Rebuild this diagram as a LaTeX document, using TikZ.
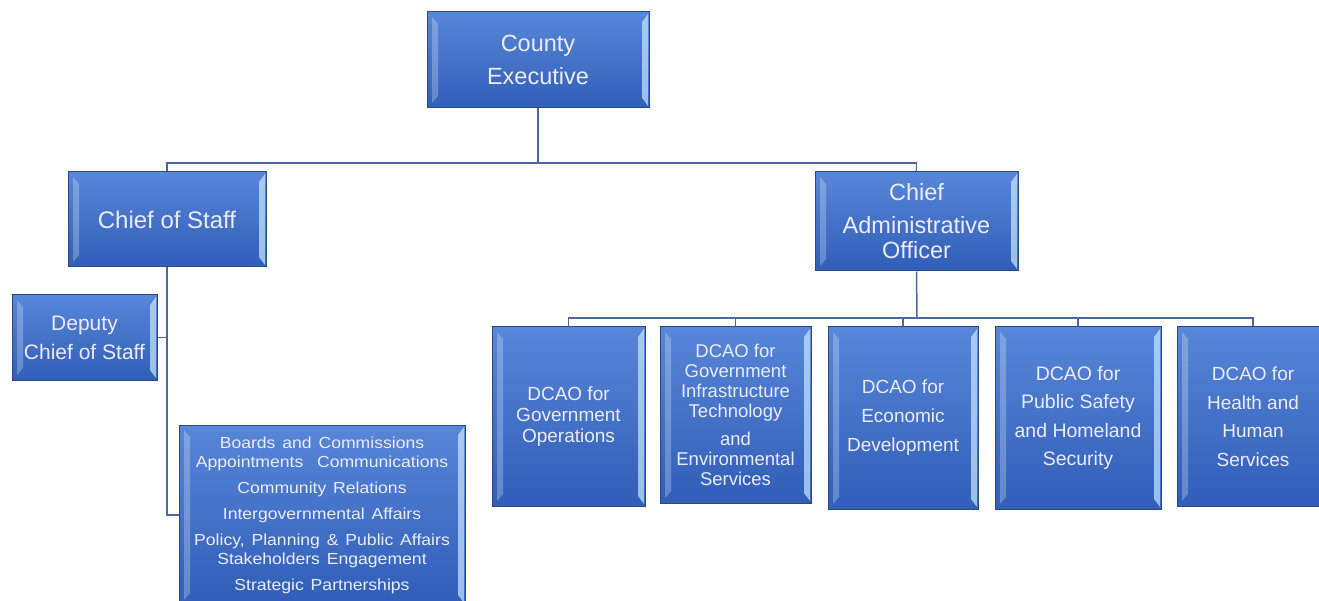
\documentclass[tikz,border=0pt]{standalone}
\usepackage{fontspec}
\setmainfont{Liberation Sans}
\newfontfamily\widefont[FakeStretch=1.1,WordSpace=1.4]{Liberation Sans}

\definecolor{boxtop}{RGB}{88,134,216}
\definecolor{boxbot}{RGB}{48,94,184}
\definecolor{boxedge}{RGB}{42,72,138}
\definecolor{wirecol}{RGB}{74,104,166}
\definecolor{gloss}{RGB}{200,232,252}

\begin{document}
\begin{tikzpicture}[x=1pt,y=-1pt,
    post/.style={draw=boxedge,line width=1pt,top color=boxtop,bottom color=boxbot,
        text=white!92!blue,align=center,inner sep=0pt,
        path picture={
            \fill[white,opacity=0.25]
                ([shift={(5pt,-5pt)}]path picture bounding box.north west)
                -- ([shift={(11pt,-12pt)}]path picture bounding box.north west)
                -- ([shift={(11pt,12pt)}]path picture bounding box.south west)
                -- ([shift={(5pt,5pt)}]path picture bounding box.south west) -- cycle;
            \fill[gloss,opacity=0.7]
                ([shift={(-1pt,-2pt)}]path picture bounding box.north east)
                -- ([shift={(-7pt,-10pt)}]path picture bounding box.north east)
                -- ([shift={(-7pt,10pt)}]path picture bounding box.south east)
                -- ([shift={(-1pt,2pt)}]path picture bounding box.south east) -- cycle;
        }},
    wire/.style={draw=wirecol,line width=1.5pt}]
\useasboundingbox (0,0) rectangle (1319,601);

% top level
\node[post,minimum width=222pt,minimum height=96pt,font=\fontsize{23.5}{33}\selectfont]
    (ce) at (538,60) {County\\Executive};

\node[post,minimum width=198pt,minimum height=95pt,font=\fontsize{24}{28}\selectfont]
    (cos) at (167,219.5) {Chief of Staff};
\node[post,minimum width=203pt,minimum height=99pt,font=\fontsize{23.5}{25}\selectfont]
    (cao) at (916.5,221.5) {Chief\\[8pt]Administrative\\Officer};

% chief of staff side
\node[post,minimum width=145pt,minimum height=85pt,font=\fontsize{21}{29}\selectfont]
    (dep) at (84.5,337.5) {Deputy\\Chief of Staff};
\node[post,minimum width=286pt,minimum height=180pt,font=\widefont\fontsize{16}{19}\selectfont]
    (office) at (322,515) {Boards and Commissions\\Appointments\ \ Communications\\[7pt]
    Community Relations\\[7pt]Intergovernmental Affairs\\[7pt]
    Policy, Planning \& Public Affairs\\Stakeholders Engagement\\[7pt]
    Strategic Partnerships};

% deputy CAOs
\node[post,minimum width=153pt,minimum height=179pt,font=\fontsize{19}{21}\selectfont]
    (d1) at (568.5,416.5) {DCAO for\\Government\\Operations};
\node[post,minimum width=151pt,minimum height=176pt,font=\fontsize{18.5}{20}\selectfont]
    (d2) at (735.5,415) {DCAO for\\Government\\Infrastructure\\Technology\\[8pt]
    and\\Environmental\\Services};
\node[post,minimum width=150pt,minimum height=182pt,font=\fontsize{19}{29}\selectfont]
    (d3) at (903,418) {DCAO for\\Economic\\Development};
\node[post,minimum width=166pt,minimum height=182pt,font=\fontsize{19.5}{28.5}\selectfont]
    (d4) at (1078,418) {DCAO for\\Public Safety\\and Homeland\\Security};
\node[post,minimum width=152pt,minimum height=179pt,font=\fontsize{19}{28.5}\selectfont]
    (d5) at (1253,416.5) {DCAO for\\Health and\\Human\\Services};

% connectors
\coordinate (hub) at (538,163);
\coordinate (rail) at (917,318);
\draw[wire] (ce.south) -- (hub);
\draw[wire] (cos.north) |- (hub) -| (cao.north);
\draw[wire] (cos.south) |- (office.west);
\draw[wire] (dep.east) -- (dep.east -| cos.south);
\draw[wire] (cao.south) -- (rail);
\draw[wire] (d1.north) |- (rail) -| (d5.north);
\foreach \n in {d2,d3,d4}
    \draw[wire] (\n.north) -- (\n.north |- rail);

\end{tikzpicture}
\end{document}
